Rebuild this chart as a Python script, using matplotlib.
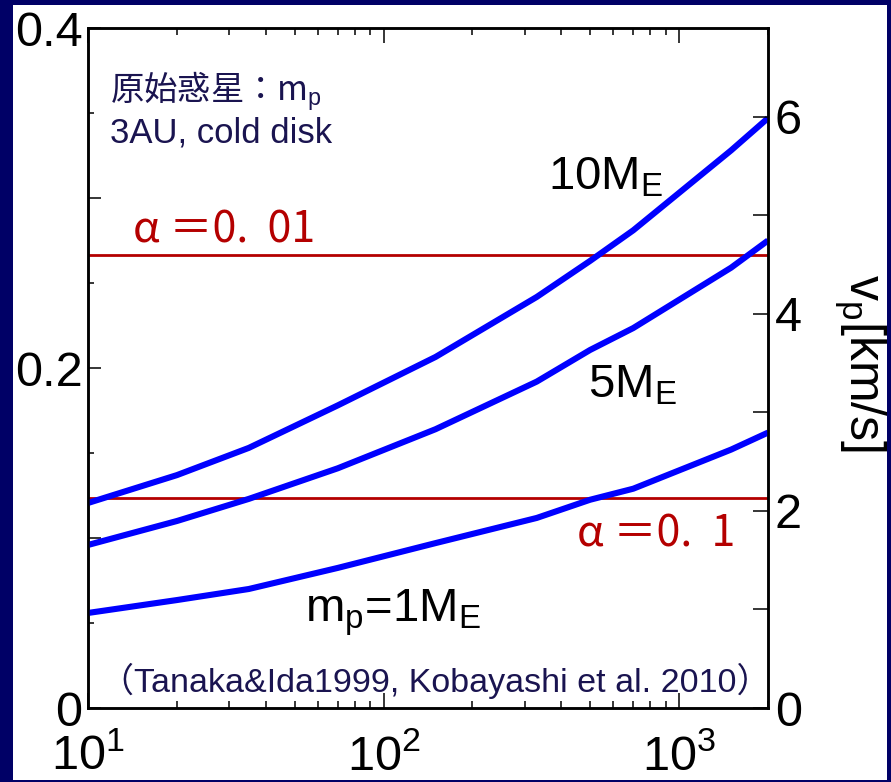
import matplotlib
matplotlib.use('Agg')
import matplotlib.pyplot as plt
from matplotlib.patches import Rectangle
from matplotlib.ticker import FixedLocator, LogLocator, NullFormatter

plt.rcParams['font.family'] = ['Liberation Sans', 'Noto Sans CJK JP', 'DejaVu Sans']
plt.rcParams['mathtext.fontset'] = 'custom'
plt.rcParams['mathtext.rm'] = 'Liberation Sans'
plt.rcParams['mathtext.it'] = 'Liberation Sans:italic'
plt.rcParams['mathtext.bf'] = 'Liberation Sans:bold'

# data (left axis units)
x_vals = [10, 20, 35, 70, 150, 330, 500, 700, 1500, 2000]
v_10me = [0.1206, 0.137, 0.153, 0.178, 0.2065, 0.2418, 0.263, 0.281, 0.328, 0.347]
v_5me = [0.0959, 0.110, 0.123, 0.141, 0.164, 0.192, 0.2106, 0.2235, 0.259, 0.275]
v_1me = [0.0559, 0.0635, 0.070, 0.0824, 0.097, 0.1118, 0.1225, 0.129, 0.152, 0.162]
alpha_levels = [0.2665, 0.1235]
alpha_labels = ['α ＝0.  01', 'α ＝0.  1']

navy = '#000066'
red = '#b40000'
ink = '#1a1450'

fig = plt.figure(figsize=(8.91, 7.82), dpi=100, facecolor=navy)
fig.patches.append(Rectangle((13 / 891, 2 / 782), 874 / 891, 775 / 782,
                             transform=fig.transFigure, facecolor='white',
                             edgecolor='none', zorder=-5))

ax = fig.add_axes([88 / 891, 74 / 782, 680 / 891, 680 / 782])
ax.set_xscale('log')
ax.set_xlim(10, 2000)
ax.set_ylim(0, 0.4)

for yv in alpha_levels:
    ax.axhline(yv, color=red, lw=2, zorder=2)
for v in (v_10me, v_5me, v_1me):
    ax.plot(x_vals, v, color='#0000ff', lw=4.4, solid_capstyle='butt', zorder=3)

# ticks
ax.xaxis.set_major_locator(FixedLocator([10, 100, 1000]))
ax.xaxis.set_minor_locator(LogLocator(base=10, subs=range(2, 10)))
ax.xaxis.set_minor_formatter(NullFormatter())
ax.set_xticklabels(['$10^{1}$', '$10^{2}$', '$10^{3}$'])
ax.set_yticks([0, 0.1, 0.2, 0.3, 0.4])
ax.set_yticklabels(['0', '', '0.2', '', '0.4'])
ax.yaxis.set_minor_locator(FixedLocator([0.05, 0.15, 0.25, 0.35]))
ax.tick_params(axis='both', which='both', direction='in', width=1.1,
               labelsize=35, colors='black')
ax.tick_params(axis='x', which='major', length=10.8, top=True, pad=19)
ax.tick_params(axis='x', which='minor', length=5, top=True)
ax.tick_params(axis='y', which='major', length=9.4, right=False, pad=4)
ax.tick_params(axis='y', which='minor', length=4.3, right=False)

ax2 = ax.twinx()
ax2.set_ylim(0, 6.9)
ax2.set_yticks([0, 1, 2, 3, 4, 5, 6])
ax2.set_yticklabels(['0', '', '2', '', '4', '', '6'])
ax2.tick_params(axis='y', which='major', direction='in', length=10.8,
                width=1.1, labelsize=35, pad=5)

for a in (ax, ax2):
    for s in a.spines.values():
        s.set_linewidth(1.8)

# annotations
ax.text(0.032, 0.8926, '原始惑星：m$_{\\rm p}$', transform=ax.transAxes,
        fontsize=24, color=ink, family=['Noto Sans CJK JP', 'DejaVu Sans'],
        va='baseline')
ax.text(0.032, 0.831, '3AU, cold disk', transform=ax.transAxes,
        fontsize=25, color=ink, va='baseline')
ax.text(0.018, 0.0235, '（Tanaka&Ida1999, Kobayashi et al. 2010）',
        transform=ax.transAxes, fontsize=24.5, color=ink, va='baseline')

ax.text(0.066, 0.685, alpha_labels[0], transform=ax.transAxes, fontsize=31,
        color=red, family=['Noto Sans CJK JP', 'DejaVu Sans'], va='baseline')
ax.text(0.719, 0.2368, alpha_labels[1], transform=ax.transAxes, fontsize=31,
        color=red, family=['Noto Sans CJK JP', 'DejaVu Sans'], va='baseline')

ax.text(0.676, 0.762, '10M$_{\\rm E}$', transform=ax.transAxes, fontsize=34,
        va='baseline')
ax.text(0.735, 0.456, '5M$_{\\rm E}$', transform=ax.transAxes, fontsize=34,
        va='baseline')
ax.text(0.319, 0.1265, 'm$_{\\rm p}$=1M$_{\\rm E}$', transform=ax.transAxes,
        fontsize=34, va='baseline')

fig.text(860 / 891, 1 - 363 / 782, 'v$_{\\rm p}$[km/s]', rotation=-90,
         ha='center', va='center', fontsize=36)

fig.savefig('out.png', dpi=100, facecolor=navy)
